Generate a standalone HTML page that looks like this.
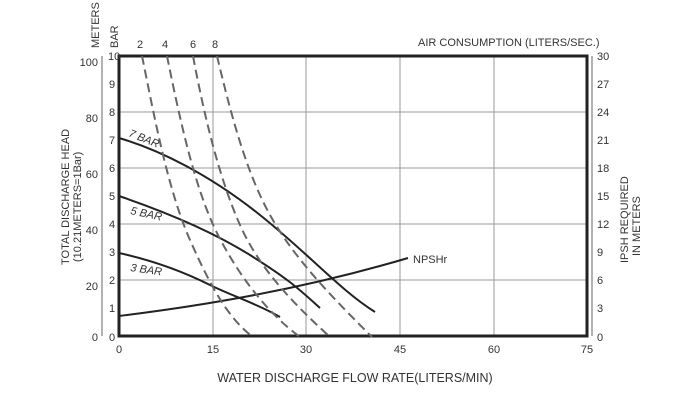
<!DOCTYPE html><html><head><style>body{margin:0;background:#fff}svg{font-family:"Liberation Sans",sans-serif}</style></head><body>
<svg width="680" height="403" xmlns="http://www.w3.org/2000/svg">
<rect width="680" height="403" fill="#fff"/>
<g stroke="#999" stroke-width="1">
<line x1="213" y1="56" x2="213" y2="336"/><line x1="306" y1="56" x2="306" y2="336"/><line x1="400" y1="56" x2="400" y2="336"/><line x1="494" y1="56" x2="494" y2="336"/>
<line x1="119" y1="112" x2="587" y2="112"/><line x1="119" y1="168" x2="587" y2="168"/><line x1="119" y1="224" x2="587" y2="224"/><line x1="119" y1="280" x2="587" y2="280"/>
</g>
<g stroke="#666" stroke-width="1">
<line x1="102" y1="56" x2="102" y2="336"/>
<line x1="592" y1="56" x2="592" y2="336"/>
</g>
<g stroke="#666" stroke-width="1" id="ticks"></g>
<rect x="119" y="56" width="468" height="280" fill="none" stroke="#222" stroke-width="3"/>
<g fill="none" stroke="#222" stroke-width="2">
<path d="M119,138 C160,150 210,175 260,215 S340,290 375,312"/>
<path d="M119,196 C160,210 210,230 250,255 S300,290 320,308"/>
<path d="M119,253 C160,262 190,275 210,285 S260,305 280,317"/>
<path d="M119,316 C200,306 300,290 408,258"/>
</g>
<g fill="none" stroke="#666" stroke-width="2" stroke-dasharray="9,5">
<path d="M142,56 C155,120 168,190 190,240 S230,320 253,337"/>
<path d="M167,56 C180,120 195,190 218,235 S270,315 300,337"/>
<path d="M193,56 C205,120 220,180 240,225 S295,305 330,337"/>
<path d="M217,56 C230,110 245,170 270,215 S335,300 372,337"/>
</g>
<g font-size="11" fill="#333">
<text x="98" y="66" text-anchor="end">100</text><text x="98" y="122" text-anchor="end">80</text><text x="98" y="178" text-anchor="end">60</text><text x="98" y="234" text-anchor="end">40</text><text x="98" y="290" text-anchor="end">20</text><text x="98" y="341" text-anchor="end">0</text>
<text x="108" y="60">10</text><text x="109" y="88">9</text><text x="109" y="116">8</text><text x="109" y="144">7</text><text x="109" y="172">6</text><text x="109" y="200">5</text><text x="109" y="228">4</text><text x="109" y="256">3</text><text x="109" y="284">2</text><text x="109" y="312">1</text><text x="109" y="341">0</text>
<text x="597" y="60">30</text><text x="597" y="88">27</text><text x="597" y="116">24</text><text x="597" y="144">21</text><text x="597" y="172">18</text><text x="597" y="200">15</text><text x="597" y="228">12</text><text x="597" y="256">9</text><text x="597" y="284">6</text><text x="597" y="312">3</text><text x="597" y="341">0</text>
<text x="119" y="353" text-anchor="middle">0</text><text x="213" y="353" text-anchor="middle">15</text><text x="306" y="353" text-anchor="middle">30</text><text x="400" y="353" text-anchor="middle">45</text><text x="494" y="353" text-anchor="middle">60</text><text x="587" y="353" text-anchor="middle">75</text>
<text x="140" y="48" text-anchor="middle">2</text><text x="165" y="48" text-anchor="middle">4</text><text x="193" y="48" text-anchor="middle">6</text><text x="215" y="48" text-anchor="middle">8</text>
<text x="418" y="46">AIR CONSUMPTION (LITERS/SEC.)</text>
<text x="413" y="263">NPSHr</text>
<text transform="translate(99,48) rotate(-90)">METERS</text>
<text transform="translate(118,48) rotate(-90)">BAR</text>
<text transform="translate(128,136) rotate(22)" font-style="italic">7 BAR</text>
<text transform="translate(130,214) rotate(12)" font-style="italic">5 BAR</text>
<text transform="translate(130,271) rotate(8)" font-style="italic">3 BAR</text>
<text transform="translate(69,265) rotate(-90)">TOTAL DISCHARGE  HEAD</text>
<text transform="translate(81,262) rotate(-90)">(10.21METERS=1Bar)</text>
<text transform="translate(628,263) rotate(-90)">IPSH  REQUIRED</text>
<text transform="translate(640,256) rotate(-90)">IN METERS</text>
<text x="355" y="382" text-anchor="middle" font-size="12.5">WATER DISCHARGE FLOW RATE(LITERS/MIN)</text>
</g>
<script>
var g=document.getElementById('ticks'),s='';
for(var i=0;i<=10;i++){var y=56+i*28;s+='<line x1="98" y1="'+y+'" x2="106" y2="'+y+'"/><line x1="592" y1="'+y+'" x2="596" y2="'+y+'"/>';}
for(var x=0;x<=75;x+=3){var px=119+x*6.24;s+='<line x1="'+px+'" y1="330" x2="'+px+'" y2="336"/>';}
g.innerHTML=s;
</script>
</svg></body></html>
